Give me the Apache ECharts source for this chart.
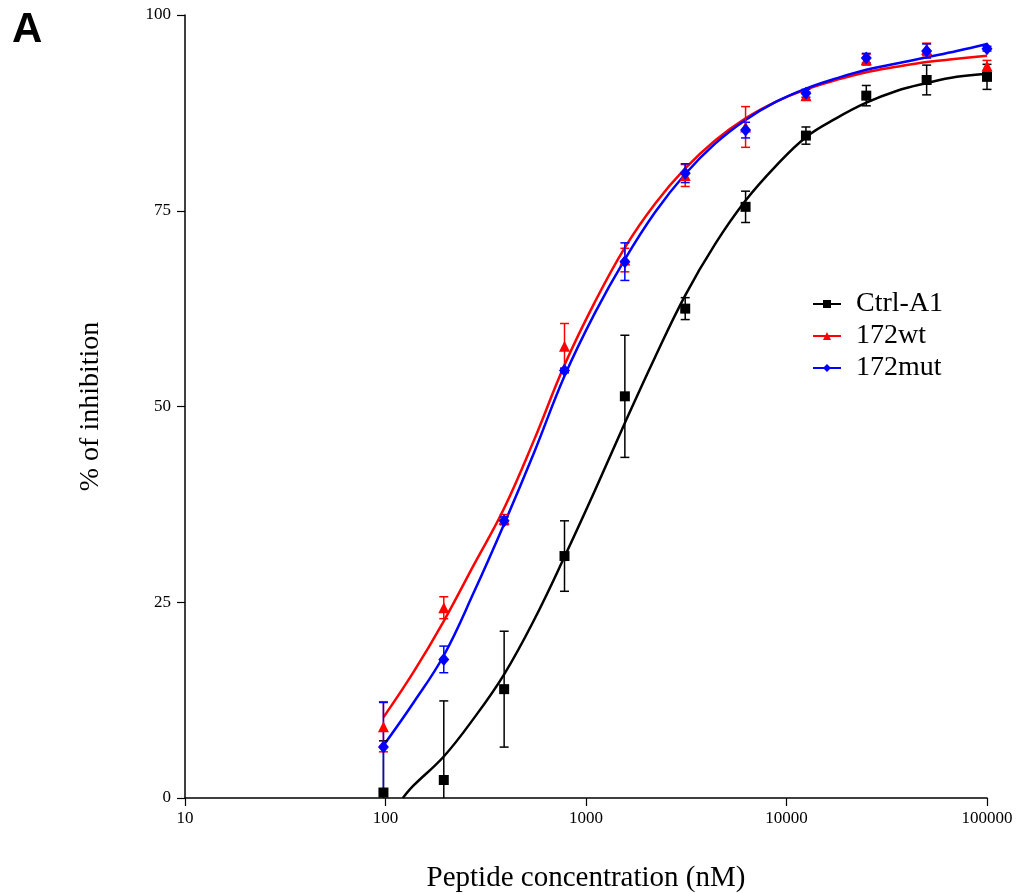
<!DOCTYPE html>
<html>
<head>
<meta charset="utf-8">
<script src="https://cdn.jsdelivr.net/npm/echarts@6/dist/echarts.min.js"></script>
<style>
  html, body { margin: 0; padding: 0; background: #fff; }
  #chart { width: 1017px; height: 894px; }
</style>
</head>
<body>
<div id="chart"></div>
<script>
// measured points (concentration in nM, % inhibition, +/- error)
var conc = [97.66, 195.3, 390.6, 781.25, 1562.5, 3125, 6250, 12500, 25000, 50000, 100000];

var ctrlVal = [0.7, 2.3, 13.9, 30.9, 51.3, 62.5, 75.5, 84.6, 89.7, 91.7, 92.1];
var ctrlErr = [6.6, 10.1, 7.4, 4.5, 7.8, 1.4, 2.0, 1.1, 1.3, 1.9, 1.6];

var wtVal = [9.1, 24.3, 35.6, 57.7, 68.7, 79.5, 85.7, 89.7, 94.3, 95.6, 93.5];
var wtErr = [3.2, 1.4, 0.6, 2.9, 1.5, 1.4, 2.6, 0.5, 0.7, 0.8, 0.7];

var mutVal = [6.5, 17.7, 35.4, 54.6, 68.5, 79.8, 85.3, 90.0, 94.5, 95.4, 95.7];
var mutErr = [5.7, 1.7, 0.5, 0.3, 2.4, 1.2, 1.0, 0.5, 0.6, 0.9, 0.3];

// fitted curves
var fitConc = [97.66, 138.1, 195.3, 276.2, 390.6, 552.4, 781.25, 1104.9, 1562.5, 2209.7,
               3125, 4419.4, 6250, 8838.8, 12500, 17677.7, 25000, 35355.3, 50000, 70710.7, 100000];
var ctrlFit = [null, 1.6, 5.3, 10.2, 15.8, 22.8, 30.8, 39.2, 47.9, 56.3,
               64.2, 70.8, 76.3, 80.7, 84.4, 86.8, 88.8, 90.3, 91.3, 92.1, 92.5];
var ctrlStart = [122, 0];
var wtFit = [10.3, 16.1, 22.6, 29.8, 37.0, 45.8, 55.3, 63.3, 70.3, 75.9,
             80.4, 84.0, 86.8, 88.9, 90.5, 91.7, 92.7, 93.4, 94.0, 94.4, 94.8];
var mutFit = [6.7, 12.2, 18.2, 26.3, 35.0, 44.2, 53.9, 61.9, 68.8, 74.8,
              79.7, 83.6, 86.6, 88.9, 90.6, 91.9, 93.0, 93.8, 94.6, 95.4, 96.3];

var seriesNames = ['Ctrl-A1', '172wt', '172mut'];
var xTicks = [10, 100, 1000, 10000, 100000];

var serif = '"Liberation Serif", "Times New Roman", serif';

function pairs(xs, ys) {
    var out = [];
    for (var i = 0; i < xs.length; i++) {
        if (ys[i] != null) out.push([xs[i], ys[i]]);
    }
    return out;
}

function errData(vals, errs) {
    return conc.map(function (c, i) { return [c, vals[i] - errs[i], vals[i] + errs[i]]; });
}

function errSeries(vals, errs, color) {
    return {
        type: 'custom',
        silent: true,
        z: 3,
        data: errData(vals, errs),
        renderItem: function (params, api) {
            var lo = api.coord([api.value(0), Math.max(api.value(1), 0)]);
            var hi = api.coord([api.value(0), api.value(2)]);
            var w = 4.5;
            var style = { stroke: color, lineWidth: 1.5 };
            var kids = [
                { type: 'line', shape: { x1: hi[0], y1: hi[1], x2: lo[0], y2: lo[1] }, style: style },
                { type: 'line', shape: { x1: hi[0] - w, y1: hi[1], x2: hi[0] + w, y2: hi[1] }, style: style }
            ];
            if (api.value(1) > 0) {
                kids.push({ type: 'line', shape: { x1: lo[0] - w, y1: lo[1], x2: lo[0] + w, y2: lo[1] }, style: style });
            }
            return { type: 'group', children: kids };
        }
    };
}

var chart = echarts.init(document.getElementById('chart'));

var ctrlCurve = [ctrlStart].concat(pairs(fitConc, ctrlFit));

var option = {
    animation: false,
    backgroundColor: '#fff',
    textStyle: { fontFamily: serif },
    graphic: [{
        type: 'text',
        left: 12,
        top: 9,
        style: { text: 'A', font: 'bold 42px "Liberation Sans", Arial, sans-serif', fill: '#000' }
    }],
    grid: { left: 185, right: 30, top: 15, bottom: 96, outerBoundsMode: 'none' },
    legend: {
        orient: 'vertical',
        left: 807,
        top: 285,
        itemWidth: 28,
        itemHeight: 10,
        itemGap: 4,
        data: seriesNames,
        textStyle: { fontFamily: serif, fontSize: 28, color: '#000', padding: [0, 0, 0, 10] }
    },
    xAxis: {
        type: 'log',
        logBase: 10,
        min: 10,
        max: 100000,
        name: 'Peptide concentration (nM)',
        nameLocation: 'middle',
        nameGap: 66,
        nameTextStyle: { fontFamily: serif, fontSize: 29, color: '#000' },
        axisLine: { lineStyle: { color: '#000', width: 1.5 } },
        axisTick: { inside: false, length: 8, lineStyle: { color: '#000', width: 1.2 } },
        axisLabel: {
            fontFamily: serif, fontSize: 17, color: '#000', margin: 12,
            formatter: function (v) { return xTicks.indexOf(Math.round(v)) >= 0 ? String(Math.round(v)) : ''; }
        },
        minorTick: { show: false },
        splitLine: { show: false }
    },
    yAxis: {
        type: 'value',
        min: 0,
        max: 100,
        interval: 25,
        name: '% of inhibition',
        nameLocation: 'middle',
        nameGap: 80,
        nameTextStyle: { fontFamily: serif, fontSize: 28, color: '#000' },
        axisLine: { show: true, lineStyle: { color: '#000', width: 1.5 } },
        axisTick: { show: true, inside: false, length: 8, lineStyle: { color: '#000', width: 1.2 } },
        axisLabel: { fontFamily: serif, fontSize: 17, color: '#000', margin: 14 },
        splitLine: { show: false }
    },
    series: [
        {
            name: 'Ctrl-A1', type: 'line', smooth: 0.4,
            symbol: 'rect', symbolSize: 9, showSymbol: false,
            color: '#000', lineStyle: { color: '#000', width: 2.5 },
            data: ctrlCurve, z: 2
        },
        {
            name: '172wt', type: 'line', smooth: 0.4,
            symbol: 'triangle', symbolSize: 10, showSymbol: false,
            color: '#ff0000', lineStyle: { color: '#ff0000', width: 2.5 },
            data: pairs(fitConc, wtFit), z: 2
        },
        {
            name: '172mut', type: 'line', smooth: 0.4,
            symbol: 'diamond', symbolSize: 12, showSymbol: false,
            color: '#0000ff', lineStyle: { color: '#0000ff', width: 2.5 },
            data: pairs(fitConc, mutFit), z: 2
        },
        errSeries(ctrlVal, ctrlErr, '#000'),
        errSeries(wtVal, wtErr, '#ff0000'),
        errSeries(mutVal, mutErr, '#0000ff'),
        {
            type: 'scatter', symbol: 'rect', symbolSize: 10, silent: true, z: 4,
            itemStyle: { color: '#000', opacity: 1 }, data: pairs(conc, ctrlVal)
        },
        {
            type: 'scatter', symbol: 'triangle', symbolSize: 11, silent: true, z: 4,
            itemStyle: { color: '#ff0000', opacity: 1 }, data: pairs(conc, wtVal)
        },
        {
            type: 'scatter', symbol: 'diamond', symbolSize: [11, 13], silent: true, z: 5,
            itemStyle: { color: '#0000ff', opacity: 1 }, data: pairs(conc, mutVal)
        }
    ]
};

chart.setOption(option);
</script>
</body>
</html>
